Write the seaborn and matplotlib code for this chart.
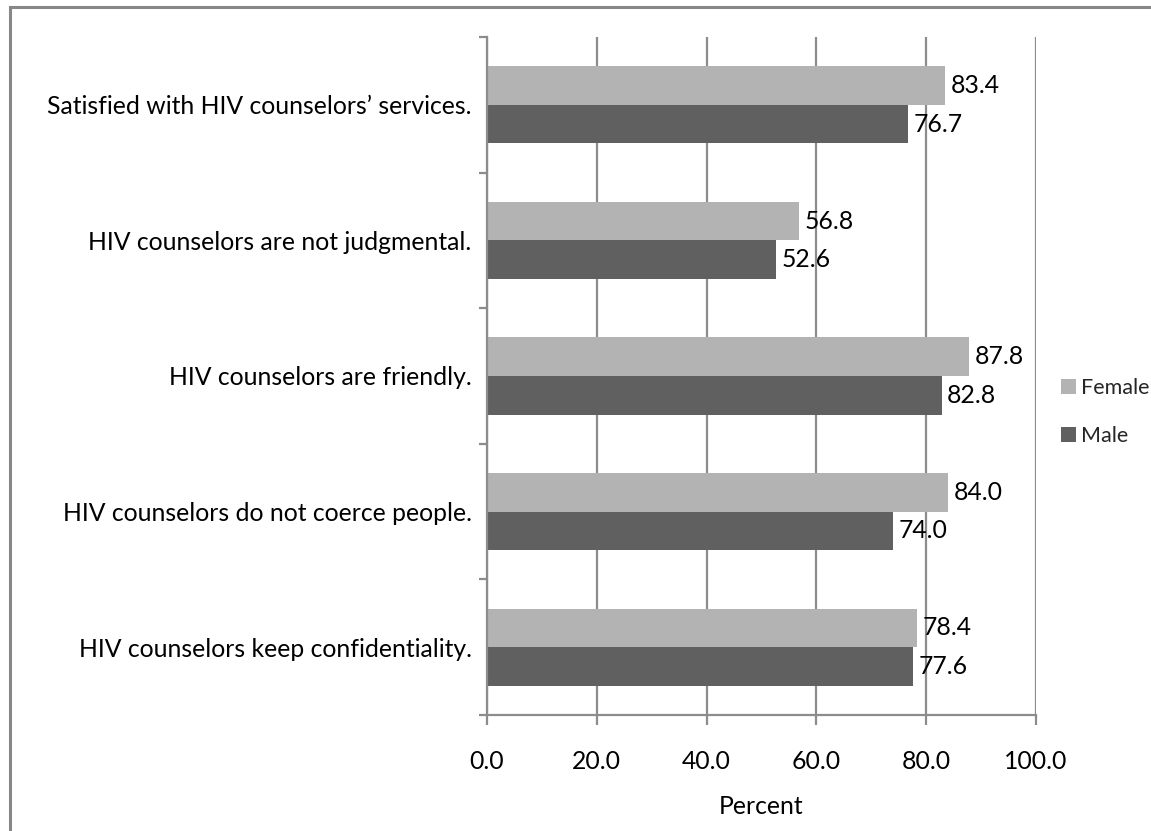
import matplotlib
matplotlib.use("Agg")
import matplotlib.pyplot as plt
from matplotlib.patches import Patch, Rectangle
from matplotlib.ticker import FormatStrFormatter, FixedLocator
import seaborn as sns
import pandas as pd

# Survey items (top to bottom) and the percentage agreeing, by sex
statements = [
    "Satisfied with HIV counselors\u2019 services.",
    "HIV counselors are not judgmental.",
    "HIV counselors are friendly.",
    "HIV counselors do not coerce people.",
    "HIV counselors keep confidentiality.",
]
female = [83.4, 56.8, 87.8, 84.0, 78.4]
male = [76.7, 52.6, 82.8, 74.0, 77.6]
groups = ["Female", "Male"]
x_ticks = [0, 20, 40, 60, 80, 100]

df = pd.DataFrame({
    "Statement": statements * 2,
    "Percent": female + male,
    "Sex": ["Female"] * len(statements) + ["Male"] * len(statements),
})

sns.set_theme(style="white")
plt.rcParams["font.family"] = ["Lato", "DejaVu Sans"]

colors = {"Female": "#b3b3b3", "Male": "#606060"}
grid_gray = "#8c8c8c"
fs = 17.8

fig = plt.figure(figsize=(11.51, 8.31), dpi=100)
ax = fig.add_axes([0.4231, 0.1396, 0.9001 - 0.4231, 0.9555 - 0.1396])

sns.barplot(data=df, y="Statement", x="Percent", hue="Sex",
            order=statements, hue_order=groups, palette=colors,
            orient="h", width=0.57, saturation=1, ax=ax, legend=False,
            edgecolor="none", zorder=3)

ax.set_xlim(0, 100)
ax.set_ylim(len(statements) - 0.5, -0.5)
ax.set_xticks(x_ticks)
ax.xaxis.set_major_formatter(FormatStrFormatter("%.1f"))
ax.grid(axis="x", color=grid_gray, linewidth=1.6, zorder=0)
ax.grid(axis="y", visible=False)

for side in ["top", "right"]:
    ax.spines[side].set_visible(False)
for side in ["left", "bottom"]:
    ax.spines[side].set_color(grid_gray)
    ax.spines[side].set_linewidth(1.6)
    ax.spines[side].set_zorder(4)

# Category boundary ticks on the value axis
ax.yaxis.set_minor_locator(FixedLocator([i - 0.5 for i in range(len(statements) + 1)]))
ax.tick_params(axis="y", which="minor", left=True, length=6, width=1.6, color=grid_gray)
ax.tick_params(axis="y", which="major", left=False, length=0, pad=11, labelsize=fs, labelcolor="black")
ax.tick_params(axis="x", which="major", bottom=True, direction="out", length=7, width=1.6,
               color=grid_gray, pad=18, labelsize=fs, labelcolor="black")

ax.set_ylabel("")
ax.set_xlabel("Percent", fontsize=fs, color="black", labelpad=16)

# Value labels at the end of each bar
for container in ax.containers:
    ax.bar_label(container, fmt="%.1f", padding=4, fontsize=fs, color="black")

handles = [Patch(facecolor=colors[g], edgecolor="none") for g in groups]
fig.legend(handles, groups, loc="center left", bbox_to_anchor=(1050 / 1151, 1 - 412 / 831),
           frameon=False, fontsize=15.5, handlelength=0.7, handleheight=0.7,
           handletextpad=0.25, labelspacing=1.3, borderpad=0)

# Chart-area outline
fig.patches.append(Rectangle((10 / 1151, -0.05), 1.2, 1 - 7 / 831 + 0.05,
                             transform=fig.transFigure, fill=False,
                             edgecolor="#878787", linewidth=2.2))

fig.savefig("out.png", dpi=100)
